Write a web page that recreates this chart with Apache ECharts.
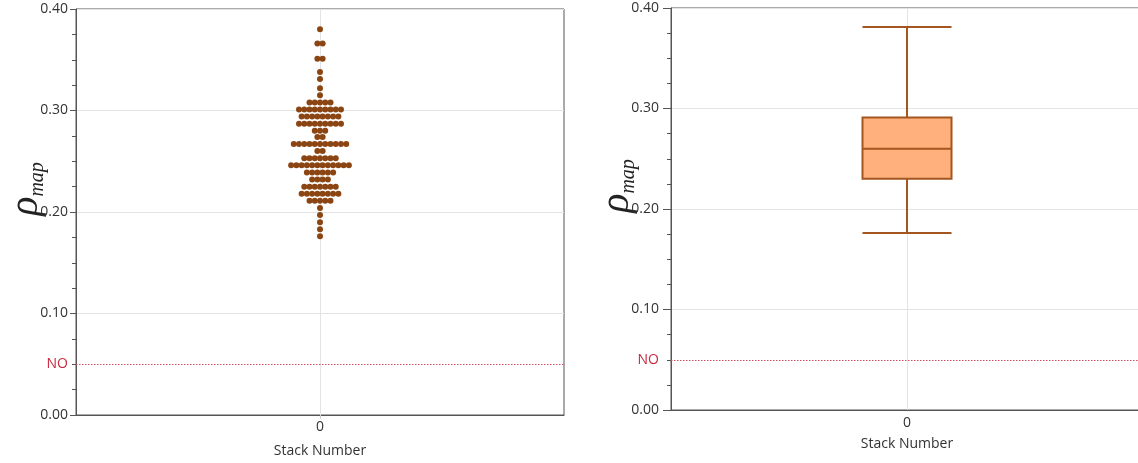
<!DOCTYPE html>
<html>
<head>
<meta charset="utf-8">
<script src="https://cdn.jsdelivr.net/npm/echarts@6/dist/echarts.min.js"></script>
<style>
  html, body { margin: 0; padding: 0; background: #fff; }
  #chart { width: 1138px; height: 463px; }
</style>
</head>
<body>
<div id="chart"></div>
<script>
// ρ_map levels (bin centres, low to high) and number of stacked dots at each level
const rhoLevels = [0.176, 0.183, 0.190, 0.197, 0.204, 0.211, 0.218, 0.225, 0.232, 0.239,
                   0.246, 0.253, 0.260, 0.267, 0.274, 0.280, 0.287, 0.294, 0.301, 0.308,
                   0.315, 0.322, 0.331, 0.338, 0.351, 0.366, 0.380];
const dotCounts = [1, 1, 1, 1, 1, 5, 8, 7, 4, 6,
                   12, 7, 2, 11, 2, 3, 9, 8, 9, 5,
                   1, 1, 1, 1, 2, 2, 1];
// box plot summary: min, Q1, median, Q3, max
const boxStats = [0.176, 0.230, 0.260, 0.291, 0.381];
const stackCategories = ['0'];
const yTickValues = [0, 0.05, 0.1, 0.2, 0.3, 0.4];
const noLevel = 0.05;
const noLabel = 'NO';

const FONT = "'Open Sans', 'Noto Sans', sans-serif";
const SERIF = "'Liberation Serif', 'DejaVu Serif', serif";
const AXIS_COLOR = '#555';
const GRID_COLOR = '#e3e3e3';
const TEXT_COLOR = '#333';
const NO_COLOR = '#c8283c';

// horizontal spacing between stacked dots, in x-axis units
const dotStep = 0.0215;
const dots = [];
rhoLevels.forEach(function (v, i) {
  const n = dotCounts[i];
  for (let k = 0; k < n; k++) {
    dots.push([(k - (n - 1) / 2) * dotStep, v]);
  }
});

function yAxisCfg(gridIndex, tickLen, labelMargin, nameGap) {
  return {
    type: 'value', gridIndex: gridIndex,
    min: 0, max: 0.4, interval: 0.1,
    name: '{r|ρ}{s|map}',
    nameLocation: 'middle', nameRotate: 90, nameGap: nameGap,
    nameMoveOverlap: false,
    nameTextStyle: {
      padding: [0, 0, 0, 46],
      rich: {
        r: { fontFamily: SERIF, fontStyle: 'italic', fontSize: 40, lineHeight: 44, color: '#222' },
        s: { fontFamily: SERIF, fontStyle: 'italic', fontSize: 20, verticalAlign: 'bottom', color: '#222' }
      }
    },
    axisLine: { show: true, onZero: false, lineStyle: { color: AXIS_COLOR, width: 1 } },
    axisTick: { show: true, length: tickLen, lineStyle: { color: AXIS_COLOR } },
    minorTick: { show: true, splitNumber: 4, length: 4, lineStyle: { color: AXIS_COLOR } },
    axisLabel: {
      customValues: yTickValues,
      margin: labelMargin,
      color: TEXT_COLOR, fontSize: 14, fontFamily: FONT,
      formatter: function (v) {
        return Math.abs(v - noLevel) < 1e-9 ? '{no|' + noLabel + '}' : v.toFixed(2);
      },
      rich: { no: { color: NO_COLOR, fontSize: 14, fontFamily: FONT } }
    },
    splitLine: { show: true, lineStyle: { color: GRID_COLOR, width: 1 } },
    minorSplitLine: { show: false }
  };
}

const noLine = {
  silent: true,
  symbol: ['none', 'none'],
  label: { show: false },
  lineStyle: { type: [1.5, 1.5], color: '#d0505f', width: 1 },
  data: [{ yAxis: noLevel }],
  animation: false
};

const option = {
  animation: false,
  backgroundColor: '#fff',
  grid: [
    { left: 76, top: 9, width: 488, height: 406, show: true, outerBoundsMode: 'none',
      borderColor: AXIS_COLOR, borderWidth: 1, backgroundColor: 'transparent' },
    { left: 671, top: 8, width: 472, height: 402, show: true, outerBoundsMode: 'none',
      borderColor: AXIS_COLOR, borderWidth: 1, backgroundColor: 'transparent' }
  ],
  xAxis: [
    {
      type: 'value', gridIndex: 0, min: -1, max: 1, interval: 1,
      name: 'Stack Number', nameLocation: 'middle', nameGap: 29,
      nameTextStyle: { color: TEXT_COLOR, fontSize: 14, fontFamily: FONT },
      axisLine: { show: true, onZero: false, lineStyle: { color: AXIS_COLOR } },
      axisTick: { show: true, customValues: [0], length: 4, lineStyle: { color: '#d0d0d0' } },
      axisLabel: { customValues: [0], margin: 5, color: TEXT_COLOR, fontSize: 14, fontFamily: FONT },
      splitLine: { show: true, lineStyle: { color: GRID_COLOR } }
    },
    {
      type: 'category', gridIndex: 1, data: stackCategories,
      name: 'Stack Number', nameLocation: 'middle', nameGap: 27,
      nameTextStyle: { color: TEXT_COLOR, fontSize: 14, fontFamily: FONT },
      axisLine: { show: true, onZero: false, lineStyle: { color: AXIS_COLOR } },
      axisTick: { show: false },
      axisLabel: { margin: 6, color: TEXT_COLOR, fontSize: 14, fontFamily: FONT },
      splitLine: { show: false }
    },
    {
      // carries the vertical grid line through the category centre
      type: 'value', gridIndex: 1, min: -1, max: 1, interval: 1, position: 'top',
      axisLine: { show: false, onZero: false }, axisTick: { show: false }, axisLabel: { show: false },
      splitLine: { show: true, lineStyle: { color: GRID_COLOR } }
    }
  ],
  yAxis: [
    yAxisCfg(0, 6, 8, 28),
    yAxisCfg(1, 8, 12, 32)
  ],
  series: [
    {
      type: 'scatter', xAxisIndex: 0, yAxisIndex: 0,
      symbol: 'circle', symbolSize: 6,
      itemStyle: { color: '#8B4513', opacity: 1 },
      data: dots,
      markLine: noLine,
      z: 3
    },
    {
      type: 'boxplot', xAxisIndex: 1, yAxisIndex: 1,
      boxWidth: [89, 89],
      itemStyle: { color: '#FFB07C', borderColor: '#A3561F', borderWidth: 2 },
      data: [boxStats],
      markLine: noLine,
      z: 3
    }
  ]
};

const chart = echarts.init(document.getElementById('chart'), null, { renderer: 'canvas' });
chart.setOption(option);
</script>
</body>
</html>
